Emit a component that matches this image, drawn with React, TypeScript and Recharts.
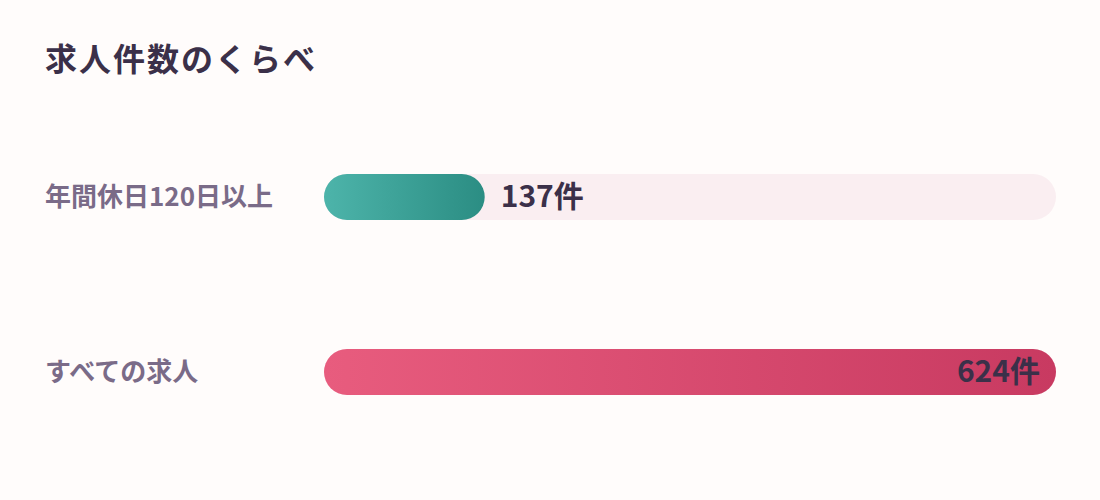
import React from 'react';
import { Bar, BarChart, Cell, LabelList, XAxis, YAxis } from 'recharts';

const CATEGORIES = ['年間休日120日以上', 'すべての求人'];
const COUNTS = [137, 624];
const TOTAL = 624;
const UNIT = '件';

const GRADIENTS = [
  { id: 'gTeal', from: '#4db4aa', to: '#2b8d83' },
  { id: 'gPink', from: '#e85c7e', to: '#c83a61' },
];

const TITLE_COLOR = '#3b3049';
const LABEL_COLOR = '#7a6b88';
const TRACK_COLOR = '#faeef1';
const FONT = '"Noto Sans CJK JP", "Noto Sans", sans-serif';

const data = CATEGORIES.map((name, i) => ({ name, value: COUNTS[i] }));

function CategoryTick(props: any) {
  const { y, payload } = props;
  return (
    <text
      x={45}
      y={y}
      dy={9}
      textAnchor="start"
      fontFamily={FONT}
      fontWeight={700}
      fontSize={26}
      fill={LABEL_COLOR}
    >
      {payload.value}
    </text>
  );
}

function ValueLabel(props: any) {
  const { x, y, width, height, value } = props;
  // short bars get the label outside, the full bar keeps it inside
  const inside = value / TOTAL > 0.5;
  return (
    <text
      x={inside ? x + width - 16 : x + width + 16}
      y={y + height / 2}
      dy={10}
      textAnchor={inside ? 'end' : 'start'}
      fontFamily={FONT}
      fontWeight={700}
      fontSize={30}
      fill={TITLE_COLOR}
    >
      {`${value}${UNIT}`}
    </text>
  );
}

export default function App() {
  return (
    <div
      style={{
        position: 'absolute',
        left: 0,
        top: 0,
        width: 1100,
        height: 500,
        background: '#fffcfb',
        fontFamily: FONT,
      }}
    >
      <div
        style={{
          position: 'absolute',
          left: 45,
          top: 37,
          fontSize: 32,
          fontWeight: 700,
          color: TITLE_COLOR,
          lineHeight: '40px',
          letterSpacing: 2,
        }}
      >
        求人件数のくらべ
      </div>
      <BarChart
        width={1100}
        height={500}
        data={data}
        layout="vertical"
        margin={{ top: 109, right: 44, bottom: 41, left: 0 }}
      >
        <defs>
          {GRADIENTS.map((g) => (
            <linearGradient key={g.id} id={g.id} x1="0" y1="0" x2="1" y2="0">
              <stop offset="0%" stopColor={g.from} />
              <stop offset="100%" stopColor={g.to} />
            </linearGradient>
          ))}
        </defs>
        <XAxis type="number" domain={[0, TOTAL]} hide />
        <YAxis
          type="category"
          dataKey="name"
          width={324}
          axisLine={false}
          tickLine={false}
          tick={<CategoryTick />}
        />
        <Bar
          dataKey="value"
          barSize={46}
          radius={23}
          background={{ fill: TRACK_COLOR, radius: 23 } as any}
          isAnimationActive={false}
        >
          {data.map((_, i) => (
            <Cell key={i} fill={`url(#${GRADIENTS[i].id})`} />
          ))}
          <LabelList dataKey="value" content={<ValueLabel />} />
        </Bar>
      </BarChart>
    </div>
  );
}
